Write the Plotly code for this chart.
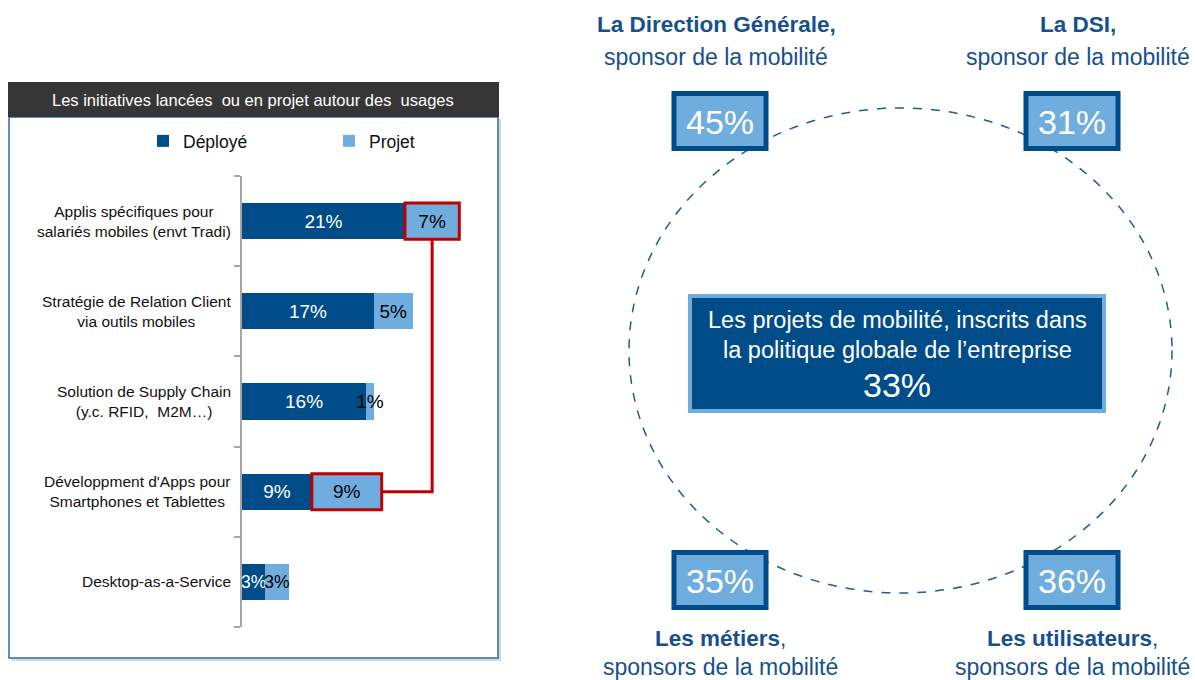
import plotly.graph_objects as go

# ---------------- data ----------------
categories = [
    "Applis spécifiques pour<br>salariés mobiles (envt Tradi)",
    "Stratégie de Relation Client<br>via outils mobiles",
    "Solution de Supply Chain<br>(y.c. RFID,  M2M…)",
    "Développment d'Apps pour<br>Smartphones et Tablettes",
    "Desktop-as-a-Service",
]
deploye = [21, 17, 16, 9, 3]
projet = [7, 5, 1, 9, 3]
series_names = ["Déployé", "Projet"]
chart_title = "Les initiatives lancées  ou en projet autour des  usages"

sponsor_titles = ["La Direction Générale,", "La DSI,", "Les métiers", "Les utilisateurs"]
sponsor_sub = ["sponsor de la mobilité", "sponsor de la mobilité",
               "sponsors de la mobilité", "sponsors de la mobilité"]
sponsor_pct = [45, 31, 35, 36]
center_text = ["Les projets de mobilité, inscrits dans", "la politique globale de l’entreprise"]
center_pct = 33

# ---------------- styling ----------------
W, H = 1195, 680
DARK = "#004C89"
LIGHT = "#6FADDF"
TXT_BLUE = "#17508C"
RED = "#C00000"
FONT = "Liberation Sans, Arial, sans-serif"


def px(x):
    return x / W


def py(y):
    return 1 - y / H


idx = list(range(len(categories)))
# slightly smaller labels on the very short last-row segments
lbl_sizes = [19 if (d + p) > 6 else 17.5 for d, p in zip(deploye, projet)]

fig = go.Figure()
fig.add_trace(go.Bar(
    y=idx, x=deploye, orientation="h", name=series_names[0],
    marker=dict(color=DARK, line=dict(width=0)), width=0.4,
    text=[f"{v}%" for v in deploye], textposition="inside", insidetextanchor="middle",
    textangle=0,
    textfont=dict(color="white", size=lbl_sizes, family=FONT), constraintext="none",
    cliponaxis=False,
))
fig.add_trace(go.Bar(
    y=idx, x=projet, orientation="h", name=series_names[1],
    marker=dict(color=LIGHT, line=dict(width=0)), width=0.4,
    text=[f"{v}%" for v in projet], textposition="inside", insidetextanchor="middle",
    textangle=0,
    textfont=dict(color="black", size=lbl_sizes, family=FONT), constraintext="none",
    cliponaxis=False,
))

shapes = []
annotations = []

# left panel frame + title bar
shapes.append(dict(type="rect", xref="paper", yref="paper", x0=px(11), x1=px(501), y0=py(661), y1=py(119),
                   fillcolor="#D9D9D9", line=dict(width=0), layer="below"))
shapes.append(dict(type="rect", xref="paper", yref="paper", x0=px(9), x1=px(498), y0=py(658), y1=py(117),
                   fillcolor="white", line=dict(color="#2E6AA6", width=1.5), layer="below"))
shapes.append(dict(type="rect", xref="paper", yref="paper", x0=px(8), x1=px(499), y0=py(117), y1=py(82),
                   fillcolor="#363636", line=dict(width=0), layer="below"))
annotations.append(dict(xref="paper", yref="paper", x=px(253), y=py(100), text=chart_title,
                        showarrow=False, font=dict(color="white", size=16.5, family=FONT),
                        xanchor="center", yanchor="middle"))

# category labels
for i, c in enumerate(categories):
    annotations.append(dict(xref="paper", yref="y", x=px(233), y=i, text=c, showarrow=False,
                            xanchor="right", yanchor="middle", align="center",
                            font=dict(size=15.5, color="#111111", family=FONT)))

# red highlight boxes and connector
hw = 0.2
a, b = 0, 3
shapes.append(dict(type="rect", xref="x", yref="y", x0=deploye[a], x1=deploye[a] + projet[a],
                   y0=a - hw, y1=a + hw, line=dict(color=RED, width=3)))
shapes.append(dict(type="rect", xref="x", yref="y", x0=deploye[b], x1=deploye[b] + projet[b],
                   y0=b - hw, y1=b + hw, line=dict(color=RED, width=3)))
xm = deploye[a] + projet[a] / 2
shapes.append(dict(type="path", xref="x", yref="y",
                   path=f"M {deploye[b] + projet[b]},{b} L {xm},{b} L {xm},{a + hw}",
                   line=dict(color=RED, width=3)))

# right infographic: dashed circle
shapes.append(dict(type="circle", xref="paper", yref="paper", x0=px(629), x1=px(1172),
                   y0=py(593), y1=py(108), line=dict(color="#1F5C99", width=1.5, dash="dash")))

# sponsor boxes
box_centers = [(720, 121), (1072, 121), (720, 580), (1072, 580)]
bw, bh = 97, 60
for (cx, cy), p in zip(box_centers, sponsor_pct):
    shapes.append(dict(type="rect", xref="paper", yref="paper",
                       x0=px(cx - bw / 2 + 2.5), x1=px(cx + bw / 2 - 2.5),
                       y0=py(cy + bh / 2 - 2.5), y1=py(cy - bh / 2 + 2.5),
                       fillcolor=LIGHT, line=dict(color=DARK, width=5)))
    annotations.append(dict(xref="paper", yref="paper", x=px(cx), y=py(cy + 1), text=f"{p}%",
                            showarrow=False, font=dict(color="white", size=34, family=FONT),
                            xanchor="center", yanchor="middle"))

# sponsor labels
label_pos = [(716, 25, 57), (1078, 25, 57), (720, 638, 667), (1072, 638, 667)]
for k, ((cx, y1, y2), t, s) in enumerate(zip(label_pos, sponsor_titles, sponsor_sub)):
    title_txt = f"<b>{t}</b>" if k < 2 else f"<b>{t}</b>,"
    annotations.append(dict(xref="paper", yref="paper", x=px(cx), y=py(y1), text=title_txt,
                            showarrow=False, font=dict(color=TXT_BLUE, size=22.5, family=FONT),
                            xanchor="center", yanchor="middle"))
    annotations.append(dict(xref="paper", yref="paper", x=px(cx), y=py(y2), text=s,
                            showarrow=False, font=dict(color=TXT_BLUE, size=23, family=FONT),
                            xanchor="center", yanchor="middle"))

# center box
shapes.append(dict(type="rect", xref="paper", yref="paper", x0=px(690), x1=px(1104),
                   y0=py(411), y1=py(296), fillcolor=DARK, line=dict(color=LIGHT, width=4)))
annotations.append(dict(xref="paper", yref="paper", x=px(897), y=py(320), text=center_text[0],
                        showarrow=False, font=dict(color="white", size=23.5, family=FONT),
                        xanchor="center", yanchor="middle"))
annotations.append(dict(xref="paper", yref="paper", x=px(897), y=py(350), text=center_text[1],
                        showarrow=False, font=dict(color="white", size=23.5, family=FONT),
                        xanchor="center", yanchor="middle"))
annotations.append(dict(xref="paper", yref="paper", x=px(897), y=py(385), text=f"{center_pct}%",
                        showarrow=False, font=dict(color="white", size=34, family=FONT),
                        xanchor="center", yanchor="middle"))

fig.update_layout(
    width=W, height=H,
    margin=dict(l=0, r=0, t=0, b=0, pad=0),
    paper_bgcolor="white", plot_bgcolor="rgba(0,0,0,0)",
    barmode="stack",
    font=dict(family=FONT, color="#111111"),
    xaxis=dict(domain=[px(242), px(495)], range=[0, 32.6], visible=False, fixedrange=True),
    yaxis=dict(domain=[py(627), py(176)], range=[4.5, -0.5],
               tickvals=[i - 0.5 for i in range(len(categories) + 1)],
               ticktext=[""] * (len(categories) + 1),
               ticks="outside", ticklen=6, tickcolor="#A6A6A6", tickwidth=1.5,
               showline=True, linecolor="#A6A6A6", linewidth=1.5,
               showgrid=False, zeroline=False, fixedrange=True),
    legend=dict(orientation="h", x=px(143), y=py(141), xanchor="left", yanchor="middle",
                font=dict(size=17.5, family=FONT, color="#111111"),
                itemwidth=30, entrywidth=141, bgcolor="rgba(0,0,0,0)", traceorder="normal"),
    shapes=shapes,
    annotations=annotations,
    showlegend=True,
)

fig.write_html("out.html", config={"displayModeBar": False},
               post_script="document.body.style.margin='0px';document.body.style.overflow='hidden';")
